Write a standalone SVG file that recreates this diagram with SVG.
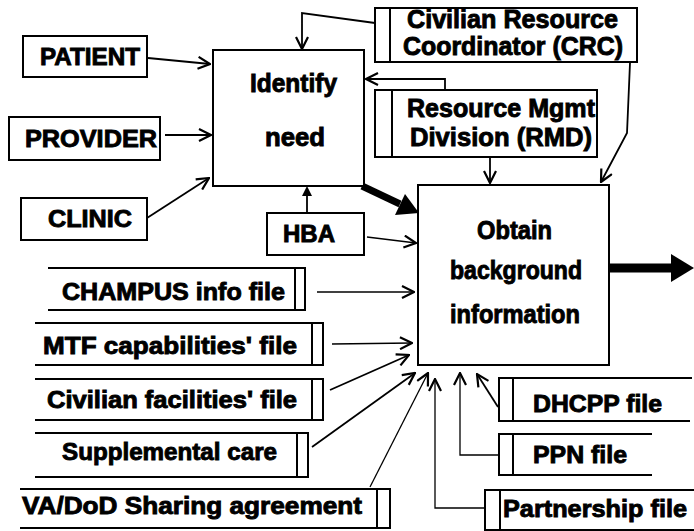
<svg xmlns="http://www.w3.org/2000/svg" width="694" height="531" viewBox="0 0 694 531">
  <style>
    .box { fill: #fff; stroke: #000; stroke-width: 2; }
    .store { fill: none; stroke: #000; stroke-width: 2; }
    .lbl { font-family: "Liberation Sans", Arial, sans-serif; font-weight: bold; font-size: 24px; fill: #000; stroke: #000; stroke-width: 0.9; }
    .big { font-size: 25px; }
    .conn { fill: none; stroke: #000; stroke-width: 1.8; }
    .thin { stroke-width: 1.3; }
    .solid { fill: #000; stroke: none; }
  </style>
  <defs>
    <marker id="open" viewBox="0 0 14 14" refX="13" refY="7" markerWidth="14" markerHeight="14" markerUnits="userSpaceOnUse" orient="auto">
      <path d="M1,1 L13,7 L1,13" fill="none" stroke="#000" stroke-width="2.2"/>
    </marker>
  </defs>

  <rect width="694" height="531" fill="#fff"/>

  <!-- connectors -->
  <g id="connectors">
    <path class="conn" d="M148,58 L210,64" marker-end="url(#open)"/>
    <path class="conn" d="M165,135 L211,135" marker-end="url(#open)"/>
    <path class="conn" d="M147,218 L209,178" marker-end="url(#open)"/>
    <path class="conn" d="M375,23 L302,13 L302,49" marker-end="url(#open)"/>
    <path class="conn" d="M445,90 L445,79 L366,79" marker-end="url(#open)"/>
    <path class="conn" d="M490,157 L490,183" marker-end="url(#open)"/>
    <path class="conn" d="M630,63 L627,133 L601,182" marker-end="url(#open)"/>
    <!-- HBA to Identify need -->
    <line class="conn" x1="307" y1="213" x2="307" y2="193"/>
    <polygon class="solid" points="307,186 302,196 312,196"/>
    <path class="conn thin" d="M367,237 L416,243" marker-end="url(#open)"/>
    <!-- Identify need to Obtain background information -->
    <line x1="362" y1="186" x2="400" y2="204" stroke="#000" stroke-width="7"/>
    <polygon class="solid" points="419,213 395,215 405,194"/>
    <!-- output -->
    <line x1="609" y1="268" x2="675" y2="268" stroke="#000" stroke-width="9"/>
    <polygon class="solid" points="671,254 694,268 671,282"/>
    <!-- data stores to Obtain -->
    <path class="conn thin" d="M317,292 L414,292" marker-end="url(#open)"/>
    <path class="conn thin" d="M332,344 L412,343" marker-end="url(#open)"/>
    <path class="conn" d="M330,390 L409,355" marker-end="url(#open)"/>
    <path class="conn" d="M312,447 L415,373" marker-end="url(#open)"/>
    <path class="conn thin" d="M370,487 L428,373" marker-end="url(#open)"/>
    <path class="conn thin" d="M485,508 L435,508 L435,379" marker-end="url(#open)"/>
    <path class="conn thin" d="M499,455 L460,455 L460,373" marker-end="url(#open)"/>
    <path class="conn" d="M498,407 L477,374" marker-end="url(#open)"/>
  </g>

  <g id="patient">
    <rect class="box" x="23" y="36" width="124" height="41"/>
    <text class="lbl" x="40" y="65" textLength="100" lengthAdjust="spacingAndGlyphs">PATIENT</text>
  </g>
  <g id="provider">
    <rect class="box" x="9" y="117" width="151" height="43"/>
    <text class="lbl" x="25" y="147" textLength="132" lengthAdjust="spacingAndGlyphs">PROVIDER</text>
  </g>
  <g id="clinic">
    <rect class="box" x="21" y="198" width="126" height="42"/>
    <text class="lbl" x="48" y="227" textLength="84" lengthAdjust="spacingAndGlyphs">CLINIC</text>
  </g>
  <g id="identify-need">
    <rect class="box" x="213" y="50" width="151" height="136"/>
    <text class="lbl big" x="250" y="92" textLength="87" lengthAdjust="spacingAndGlyphs">Identify</text>
    <text class="lbl big" x="265" y="146" textLength="60" lengthAdjust="spacingAndGlyphs">need</text>
  </g>
  <g id="hba">
    <rect class="box" x="267" y="213" width="97" height="42"/>
    <text class="lbl" x="283" y="242" textLength="52" lengthAdjust="spacingAndGlyphs">HBA</text>
  </g>
  <g id="crc">
    <rect class="box" x="375" y="8" width="262" height="54"/>
    <line class="store" x1="390" y1="8" x2="390" y2="62"/>
    <text class="lbl big" x="407" y="28" textLength="211" lengthAdjust="spacingAndGlyphs">Civilian Resource</text>
    <text class="lbl big" x="403" y="55" textLength="220" lengthAdjust="spacingAndGlyphs">Coordinator (CRC)</text>
  </g>
  <g id="rmd">
    <rect class="box" x="375" y="90" width="222" height="67"/>
    <line class="store" x1="392" y1="90" x2="392" y2="157"/>
    <text class="lbl big" x="407" y="117" textLength="188" lengthAdjust="spacingAndGlyphs">Resource Mgmt</text>
    <text class="lbl big" x="410" y="146" textLength="182" lengthAdjust="spacingAndGlyphs">Division (RMD)</text>
  </g>
  <g id="obtain-background">
    <rect class="box" x="418" y="185" width="191" height="180"/>
    <text class="lbl big" x="477" y="239" textLength="75" lengthAdjust="spacingAndGlyphs">Obtain</text>
    <text class="lbl big" x="450" y="279" textLength="132" lengthAdjust="spacingAndGlyphs">background</text>
    <text class="lbl big" x="450" y="323" textLength="130" lengthAdjust="spacingAndGlyphs">information</text>
  </g>

  <g id="champus-file">
    <path class="store" d="M48,268 H305 V310 H48 M295,268 V310"/>
    <text class="lbl" x="62" y="300" textLength="223" lengthAdjust="spacingAndGlyphs">CHAMPUS info file</text>
  </g>
  <g id="mtf-file">
    <path class="store" d="M35,323 H323 V365 H35 M312,323 V365"/>
    <text class="lbl" x="43" y="354" textLength="254" lengthAdjust="spacingAndGlyphs">MTF capabilities' file</text>
  </g>
  <g id="civilian-file">
    <path class="store" d="M35,379 H323 V420 H35 M312,379 V420"/>
    <text class="lbl" x="47" y="408" textLength="250" lengthAdjust="spacingAndGlyphs">Civilian facilities' file</text>
  </g>
  <g id="supplemental-care">
    <path class="store" d="M35,433 H308 V477 H35 M297,433 V477"/>
    <text class="lbl" x="62" y="460" textLength="215" lengthAdjust="spacingAndGlyphs">Supplemental care</text>
  </g>
  <g id="va-dod">
    <path class="store" d="M20,489 H390 V528 H20 M377,489 V528"/>
    <text class="lbl" x="22" y="514" textLength="340" lengthAdjust="spacingAndGlyphs">VA/DoD Sharing agreement</text>
  </g>
  <g id="dhcpp-file">
    <path class="store" d="M692,378 H499 V421 H690 M513,378 V421"/>
    <text class="lbl" x="533" y="412" textLength="129" lengthAdjust="spacingAndGlyphs">DHCPP file</text>
  </g>
  <g id="ppn-file">
    <path class="store" d="M652,434 H499 V475 H652 M513,434 V475"/>
    <text class="lbl" x="533" y="463" textLength="94" lengthAdjust="spacingAndGlyphs">PPN file</text>
  </g>
  <g id="partnership-file">
    <path class="store" d="M694,490 H485 V530 H694 M500,490 V530"/>
    <text class="lbl" x="503" y="517" textLength="184" lengthAdjust="spacingAndGlyphs">Partnership file</text>
  </g>
</svg>
